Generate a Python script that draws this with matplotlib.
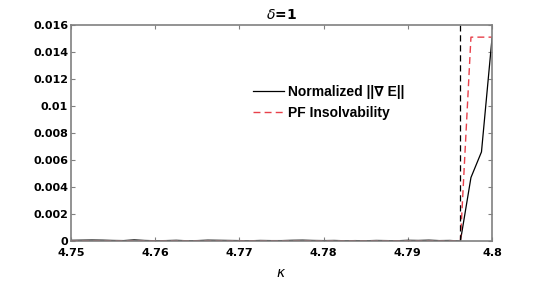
import numpy as np
import matplotlib
matplotlib.use('Agg')
import matplotlib.pyplot as plt
from matplotlib.ticker import FuncFormatter

# datos
kappa = np.linspace(4.75, 4.8, 41)
grad_E = [0.00005, 0.00006, 0.00007, 0.00006, 0.00004, 0.00003, 0.00008, 0.00004,
          0.00002, 0.00003, 0.00005, 0.00002, 0.00003, 0.00006, 0.00005, 0.00004,
          0.00003, 0.00002, 0.00004, 0.00003, 0.00003, 0.00005, 0.00006, 0.00004,
          0.00003, 0.00004, 0.00002, 0.00003, 0.00002, 0.00004, 0.00003, 0.00002,
          0.00005, 0.00004, 0.00006, 0.00003, 0.00004, 0.0, 0.0047, 0.0066, 0.0150]
pf_insolv = [0.0] * 38 + [0.0151, 0.0151, 0.0151]
kappa_crit = 4.79625

fig = plt.figure(figsize=(5.44, 2.81), dpi=100)
ax = fig.add_axes([71/544, 1 - 241/281, (492-71)/544, (241-25)/281])

ax.plot(kappa, grad_E, color='black', lw=0.9, label='Normalized ||\u2207 E||')
ax.plot(kappa, pf_insolv, color='#e8404a', lw=1.0, ls=(0, (5, 3)), label='PF Insolvability')
ax.axvline(kappa_crit, color='black', lw=0.9, ls=(0, (5, 3)))

ax.set_xlim(4.75, 4.8)
ax.set_ylim(0, 0.016)
ax.set_xticks([4.75, 4.76, 4.77, 4.78, 4.79, 4.8])
ax.set_yticks(np.arange(0, 0.0161, 0.002))
ax.xaxis.set_major_formatter(FuncFormatter(lambda v, p: '%g' % round(v, 4)))
ax.yaxis.set_major_formatter(FuncFormatter(lambda v, p: '%g' % round(v, 4)))
ax.tick_params(direction='in', top=True, right=True, length=3, width=0.8,
               color='#808080', labelsize=8, pad=2)
ax.tick_params(axis='x', pad=5)
for lab in ax.get_xticklabels() + ax.get_yticklabels():
    lab.set_fontweight('bold')
for s in ax.spines.values():
    s.set_color('#808080')
    s.set_linewidth(1.2)

ax.set_title(r'$\delta$=1', fontsize=10, fontweight='bold', pad=4)
ax.set_xlabel(r'$\kappa$', fontsize=10, labelpad=6)

leg = ax.legend(loc='upper left', bbox_to_anchor=(0.42, 0.75), frameon=False,
                prop={'family': ['Liberation Sans', 'DejaVu Sans'], 'weight': 'bold', 'size': 10},
                handlelength=2.2, handletextpad=0.3, labelspacing=0.5, borderaxespad=0)

fig.savefig('out.png', dpi=100)
